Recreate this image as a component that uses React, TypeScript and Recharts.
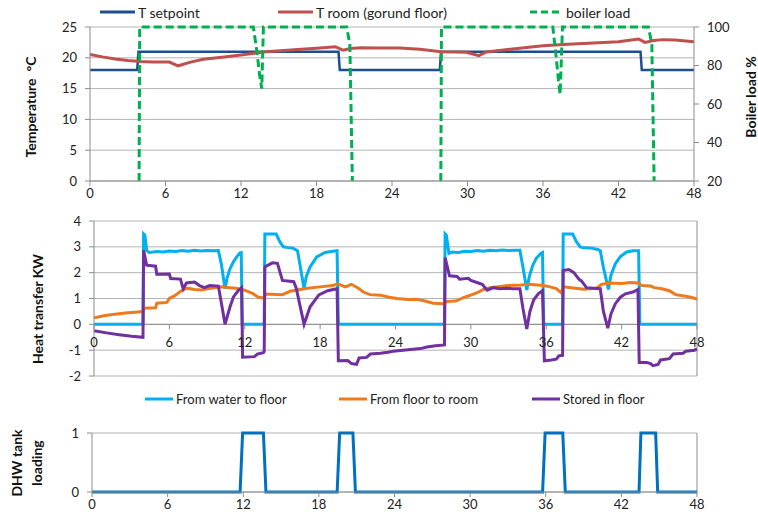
import React from 'react';
import { LineChart, Line, XAxis, YAxis, CartesianGrid, ReferenceLine } from 'recharts';

// hours of the 48 h simulation
const hourTicks = [0, 6, 12, 18, 24, 30, 36, 42, 48];

// --- panel 1: temperatures and boiler load ---
const setpointHours = [0, 3.75, 3.85, 19.75, 19.85, 27.8, 27.9, 43.75, 43.85, 48];
const setpointTemp = [18, 18, 21, 21, 18, 18, 21, 21, 18, 18];

const roomHours = [0, 1, 2, 3, 4, 5, 6.3, 7, 8, 9, 10.5, 12, 14, 16.5, 18, 19.5, 20.1, 20.7, 21.5, 23, 24.6, 26.2, 27.9, 29.9, 30.9, 31.5, 33.4, 36, 38, 40, 42, 43.6, 44.1, 44.8, 45.5, 46.5, 48];
const roomTemp = [20.55, 20.15, 19.8, 19.55, 19.4, 19.3, 19.3, 18.7, 19.3, 19.75, 20.1, 20.45, 21.0, 21.35, 21.55, 21.8, 21.25, 21.5, 21.65, 21.6, 21.6, 21.4, 21.0, 20.9, 20.35, 20.95, 21.4, 21.95, 22.2, 22.4, 22.6, 23.05, 22.5, 22.8, 22.95, 22.9, 22.6];

const boilerHours = [0, 3.9, 3.95, 12.98, 13.25, 13.5, 13.65, 13.78, 20.4, 20.65, 20.85, 21, 27.88, 27.93, 36.78, 37.04, 37.23, 37.36, 37.55, 44.38, 44.65, 44.83, 45, 48];
const boilerLoad = [null, 20, 100, 100, 88, 74, 68, 100, 100, 91, 20, null, 20, 100, 100, 85, 72, 65, 100, 100, 91, 20, null, null];

// --- panel 2: heat transfer kW ---
const waterHours = [0, 3.9, 3.95, 4.05, 4.2, 4.4, 5, 5.5, 6, 6.5, 7, 7.5, 8, 8.5, 9, 9.5, 9.9, 10.15, 10.43, 10.6, 10.83, 11.1, 11.36, 11.62, 11.72, 11.8, 13.55, 13.6, 14.5, 14.8, 15.07, 15.5, 15.87, 16.2, 16.4, 16.72, 16.9, 17.2, 17.73, 18.39, 19.0, 19.35, 19.45, 27.9, 27.95, 28.05, 28.25, 28.5, 29, 29.5, 30, 30.5, 31, 31.5, 32, 32.5, 33, 33.5, 33.9, 34.15, 34.45, 34.65, 34.9, 35.2, 35.6, 35.7, 35.8, 37.3, 37.35, 38.1, 38.4, 38.7, 39.0, 39.6, 40.1, 40.3, 40.55, 40.95, 41.15, 41.5, 41.9, 42.4, 42.9, 43.35, 43.45, 48];
const waterToFloor = [0, 0, 3.5, 3.45, 2.85, 2.78, 2.82, 2.8, 2.84, 2.82, 2.86, 2.83, 2.87, 2.84, 2.86, 2.85, 2.86, 2.3, 1.38, 1.8, 2.16, 2.42, 2.61, 2.77, 2.78, 0, 0, 3.5, 3.5, 3.19, 3.0, 2.97, 2.94, 2.85, 2.3, 1.38, 1.85, 2.22, 2.61, 2.78, 2.83, 2.85, 0, 0, 3.5, 3.45, 2.75, 2.8, 2.78, 2.83, 2.82, 2.86, 2.83, 2.87, 2.85, 2.88, 2.86, 2.87, 2.87, 2.2, 1.33, 1.85, 2.25, 2.55, 2.76, 2.78, 0, 0, 3.5, 3.5, 3.2, 3.0, 2.96, 2.95, 2.9, 2.85, 2.2, 1.35, 1.9, 2.35, 2.62, 2.8, 2.85, 2.85, 0, 0];

const floorHours = [0, 0.5, 1, 1.5, 2, 2.5, 3, 3.5, 3.9, 3.95, 4.9, 5.0, 5.8, 6.0, 6.4, 6.9, 7.4, 8.0, 8.6, 9.0, 9.6, 10.2, 10.8, 11.3, 12.0, 12.6, 13.1, 13.55, 13.65, 15.0, 15.6, 16.4, 17.0, 18.0, 19.0, 19.4, 20.0, 20.5, 21.04, 21.44, 21.97, 22.8, 23.5, 24.1, 25.0, 25.6, 26.2, 27.0, 27.9, 28.0, 28.8, 29.5, 30.1, 30.6, 31.0, 31.5, 32.0, 33.0, 34.0, 34.6, 35.3, 35.8, 36.3, 36.8, 37.2, 37.35, 38.0, 39.0, 40.0, 40.4, 41.0, 42.0, 42.7, 43.3, 43.6, 44.3, 44.6, 45.2, 45.8, 46.3, 47.0, 47.5, 48];
const floorToRoom = [0.25, 0.3, 0.35, 0.38, 0.41, 0.44, 0.46, 0.48, 0.5, 0.62, 0.64, 0.82, 0.85, 1.0, 1.1, 1.28, 1.4, 1.35, 1.33, 1.38, 1.42, 1.45, 1.42, 1.4, 1.32, 1.2, 1.05, 1.02, 1.17, 1.15, 1.28, 1.35, 1.4, 1.45, 1.5, 1.57, 1.45, 1.55, 1.4, 1.25, 1.15, 1.13, 1.05, 1.0, 0.96, 0.97, 0.92, 0.82, 0.8, 0.88, 0.9, 1.05, 1.15, 1.25, 1.35, 1.42, 1.45, 1.5, 1.52, 1.55, 1.52, 1.5, 1.45, 1.38, 1.22, 1.45, 1.42, 1.36, 1.4, 1.55, 1.6, 1.58, 1.62, 1.6, 1.5, 1.48, 1.42, 1.38, 1.3, 1.15, 1.1, 1.05, 0.98];

const storedHours = [0, 1, 2, 3, 3.9, 3.95, 4.19, 4.9, 5.0, 6.0, 6.1, 6.88, 7.1, 7.36, 8.0, 8.4, 8.8, 9.2, 9.9, 10.15, 10.43, 10.83, 11.1, 11.5, 11.75, 11.83, 12.77, 13.0, 13.48, 13.55, 13.6, 14.2, 14.6, 15.0, 15.9, 16.1, 16.72, 17.2, 17.9, 18.6, 19.35, 19.45, 20.2, 20.5, 20.9, 21.1, 21.7, 22.0, 22.8, 23.4, 23.8, 24.6, 25.2, 26.0, 26.5, 27.2, 27.9, 27.95, 28.3, 28.9, 29.1, 29.8, 30.0, 30.6, 30.9, 31.3, 31.8, 32.3, 32.8, 33.3, 33.9, 34.15, 34.45, 34.7, 35.0, 35.4, 35.7, 35.85, 36.4, 36.8, 37.0, 37.3, 37.35, 37.8, 38.2, 38.6, 38.8, 39.2, 39.8, 40.3, 40.55, 40.9, 41.15, 41.5, 41.9, 42.3, 42.9, 43.3, 43.4, 44.0, 44.3, 44.5, 44.9, 45.1, 45.8, 46.1, 46.9, 47.1, 47.8, 48];
const storedInFloor = [-0.25, -0.33, -0.4, -0.46, -0.5, 2.87, 2.29, 2.25, 1.94, 1.95, 1.77, 1.75, 1.38, 1.6, 1.64, 1.5, 1.42, 1.5, 1.48, 0.8, 0.0, 0.68, 1.06, 1.32, 1.42, -1.27, -1.25, -1.15, -1.1, -1.05, 2.22, 2.38, 2.36, 1.7, 1.65, 1.4, 0.0, 0.68, 1.14, 1.3, 1.38, -1.41, -1.4, -1.52, -1.55, -1.3, -1.28, -1.15, -1.12, -1.08, -1.04, -1.0, -0.97, -0.94, -0.88, -0.83, -0.8, 2.58, 1.88, 1.85, 1.75, 1.78, 1.7, 1.6, 1.55, 1.32, 1.42, 1.38, 1.4, 1.38, 1.38, 0.6, -0.18, 0.5, 0.95, 1.2, 1.3, -1.41, -1.38, -1.35, -1.22, -1.2, 2.08, 2.12, 2.0, 1.75, 1.68, 1.42, 1.4, 1.38, 0.5, -0.15, 0.4, 0.8, 1.05, 1.18, 1.25, 1.35, -1.48, -1.48, -1.52, -1.6, -1.55, -1.38, -1.33, -1.15, -1.12, -1.04, -1.0, -0.95];

// --- panel 3: DHW tank loading ---
const dhwHours = [0, 11.75, 11.95, 13.6, 13.8, 19.45, 19.65, 20.7, 20.9, 35.75, 35.95, 37.35, 37.55, 43.4, 43.55, 44.72, 44.88, 48];
const dhwLoading = [0, 0, 1, 1, 0, 0, 1, 1, 0, 0, 1, 1, 0, 0, 1, 1, 0, 0];

const zip = (hs: number[], vs: (number | null)[]) => hs.map((h, i) => ({ h, v: vs[i] }));

const setpointData = zip(setpointHours, setpointTemp);
const roomData = zip(roomHours, roomTemp);
const boilerData = zip(boilerHours, boilerLoad);
const waterData = zip(waterHours, waterToFloor);
const floorData = zip(floorHours, floorToRoom);
const storedData = zip(storedHours, storedInFloor);
const dhwData = zip(dhwHours, dhwLoading);

const FONT = 'Lato, "Open Sans", sans-serif';
const GRID = '#b4b4b4';
const AXIS = '#8c8c8c';
const tickStyle = { fontFamily: FONT, fontSize: 13, fill: '#222' };

const C_SET = '#1f4e8c';
const C_ROOM = '#c0504d';
const C_BOILER = '#00b050';
const C_WATER = '#00b0f0';
const C_FLOOR = '#ee7a1d';
const C_STORED = '#7030a0';
const C_DHW = '#0070c0';

// panel 2 has its x labels on the zero line, 2/6 of the plot height above the bottom
const HEAT_PLOT_H = 155;
const heatTick = (props: any) => {
  const { x, y, payload } = props;
  const y0 = y - (HEAT_PLOT_H * 2) / 6;
  return (
    <g>
      <line x1={x} x2={x} y1={y0} y2={y0 + 5} stroke={AXIS} />
      <text x={x} y={y0 + 18} textAnchor="middle" dominantBaseline="central" style={tickStyle}>
        {payload.value}
      </text>
    </g>
  );
};

function LegendItem({ x, y, w, color, label, dash, size = 14 }: any) {
  return (
    <div style={{ position: 'absolute', left: x, top: y - 10, height: 20, display: 'flex', alignItems: 'center', whiteSpace: 'nowrap', fontFamily: FONT, fontSize: size, color: '#222' }}>
      <svg width={w} height={6} style={{ marginRight: 3 }}>
        <line x1={0} x2={w} y1={3} y2={3} stroke={color} strokeWidth={3} strokeDasharray={dash} />
      </svg>
      {label}
    </div>
  );
}

function AxisTitle({ x, y, children }: any) {
  return (
    <div style={{ position: 'absolute', left: x, top: y, transform: 'translate(-50%, -50%) rotate(-90deg)', whiteSpace: 'pre', fontFamily: FONT, fontWeight: 700, fontSize: 14, color: '#111', textAlign: 'center', lineHeight: '20px' }}>
      {children}
    </div>
  );
}

export default function App() {
  return (
    <div style={{ position: 'absolute', left: 0, top: 0, width: 758, height: 520, background: '#fff', overflow: 'hidden' }}>
      <div style={{ position: 'absolute', left: 0, top: 0 }}>
        <LineChart width={758} height={205} margin={{ top: 27, right: 20, bottom: 4, left: 60 }}>
          <CartesianGrid yAxisId="left" vertical={false} stroke={GRID} />
          <XAxis dataKey="h" type="number" domain={[0, 48]} ticks={hourTicks} height={20} stroke={AXIS} tickSize={5} tickMargin={3} tick={tickStyle} />
          <YAxis yAxisId="left" domain={[0, 25]} ticks={[0, 5, 10, 15, 20, 25]} width={30} stroke={AXIS} tickSize={5} tickMargin={8} tick={tickStyle} />
          <YAxis yAxisId="right" orientation="right" domain={[20, 100]} ticks={[20, 40, 60, 80, 100]} width={44} stroke={AXIS} tickSize={5} tickMargin={8} tick={tickStyle} />
          <Line yAxisId="left" data={setpointData} dataKey="v" type="linear" stroke={C_SET} strokeWidth={2.5} dot={false} isAnimationActive={false} />
          <Line yAxisId="left" data={roomData} dataKey="v" type="linear" stroke={C_ROOM} strokeWidth={3} dot={false} isAnimationActive={false} />
          <Line yAxisId="right" data={boilerData} dataKey="v" type="linear" stroke={C_BOILER} strokeWidth={3} strokeDasharray="8 4" dot={false} isAnimationActive={false} />
        </LineChart>
      </div>

      <div style={{ position: 'absolute', left: 0, top: 200 }}>
        <LineChart width={758} height={202} margin={{ top: 21, right: 61, bottom: 6, left: 64 }}>
          <CartesianGrid vertical={false} stroke={GRID} />
          <XAxis dataKey="h" type="number" domain={[0, 48]} ticks={hourTicks} height={20} axisLine={false} tickLine={false} tickSize={0} tickMargin={0} tick={heatTick} />
          <YAxis domain={[-2, 4]} ticks={[-2, -1, 0, 1, 2, 3, 4]} width={30} stroke={AXIS} tickSize={5} tickMargin={8} tick={tickStyle} />
          <ReferenceLine x={48} stroke={AXIS} />
          <ReferenceLine y={0} stroke={AXIS} />
          <Line data={waterData} dataKey="v" type="linear" stroke={C_WATER} strokeWidth={3} dot={false} isAnimationActive={false} />
          <Line data={floorData} dataKey="v" type="linear" stroke={C_FLOOR} strokeWidth={3} dot={false} isAnimationActive={false} />
          <Line data={storedData} dataKey="v" type="linear" stroke={C_STORED} strokeWidth={3} dot={false} isAnimationActive={false} />
        </LineChart>
      </div>

      <div style={{ position: 'absolute', left: 0, top: 410 }}>
        <LineChart width={758} height={110} margin={{ top: 23, right: 61, bottom: 8, left: 62 }}>
          <CartesianGrid vertical={false} stroke={GRID} />
          <XAxis dataKey="h" type="number" domain={[0, 48]} ticks={hourTicks} height={20} stroke={AXIS} tickSize={5} tickMargin={3} tick={tickStyle} />
          <YAxis domain={[0, 1]} ticks={[0, 1]} width={30} stroke={AXIS} tickSize={5} tickMargin={8} tick={tickStyle} />
          <ReferenceLine x={48} stroke={AXIS} />
          <Line data={dhwData} dataKey="v" type="linear" stroke={C_DHW} strokeWidth={3} dot={false} isAnimationActive={false} />
        </LineChart>
      </div>

      <LegendItem x={100} y={12} w={35} color={C_SET} label="T setpoint" />
      <LegendItem x={278} y={12} w={35} color={C_ROOM} label="T room (gorund floor)" />
      <LegendItem x={530} y={12} w={33} color={C_BOILER} label="boiler load" dash="7 4" />

      <LegendItem x={145} y={399} w={28} color={C_WATER} label="From water to floor" size={13} />
      <LegendItem x={339} y={399} w={28} color={C_FLOOR} label="From floor to room" size={13} />
      <LegendItem x={532} y={399} w={28} color={C_STORED} label="Stored in floor" size={13} />

      <AxisTitle x={31} y={107}>{'Temperature  °C'}</AxisTitle>
      <AxisTitle x={751} y={97}>{'Boiler load %'}</AxisTitle>
      <AxisTitle x={38} y={309}>{'Heat transfer KW'}</AxisTitle>
      <AxisTitle x={27} y={463}>{'DHW tank\nloading'}</AxisTitle>
    </div>
  );
}
